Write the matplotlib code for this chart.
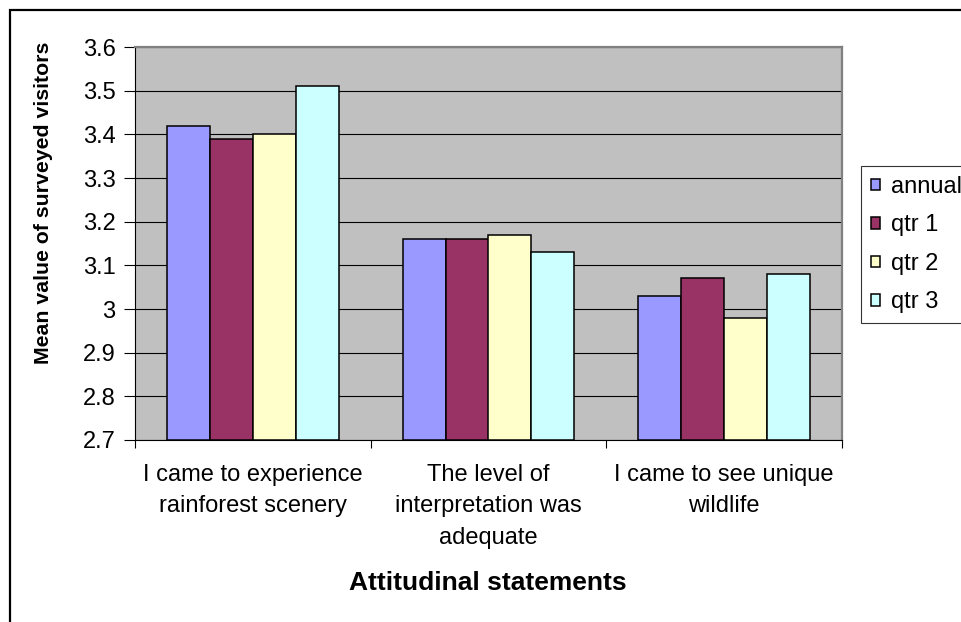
import numpy as np
import matplotlib.pyplot as plt
from matplotlib.patches import Rectangle

plt.rcParams['font.family'] = ['Liberation Sans', 'DejaVu Sans']

# data
kategorie = ['I came to experience\nrainforest scenery',
             'The level of\ninterpretation was\nadequate',
             'I came to see unique\nwildlife']
serie = ['annual', 'qtr 1', 'qtr 2', 'qtr 3']
annual = [3.42, 3.16, 3.03]
qtr1 = [3.39, 3.16, 3.07]
qtr2 = [3.40, 3.17, 2.98]
qtr3 = [3.51, 3.13, 3.08]
farby = ['#9999FF', '#993366', '#FFFFCC', '#CCFFFF']
y_ticks = [2.7, 2.8, 2.9, 3.0, 3.1, 3.2, 3.3, 3.4, 3.5, 3.6]
y_labels = ['2.7', '2.8', '2.9', '3', '3.1', '3.2', '3.3', '3.4', '3.5', '3.6']

W, H = 961, 622
fig = plt.figure(figsize=(W / 100, H / 100), dpi=100)
ax = fig.add_axes([135 / W, 1 - 440 / H, (842 - 135) / W, (440 - 47) / H])
ax.set_facecolor('#C0C0C0')

x = np.arange(len(kategorie))
sirka = 1 / 5.5  # gap width 150 %
for k, (hodnoty, meno) in enumerate(zip([annual, qtr1, qtr2, qtr3], serie)):
  ax.bar(x + (k - 1.5) * sirka, np.array(hodnoty) - 2.7, bottom=2.7, width=sirka,
         color=farby[k], edgecolor='black', linewidth=1.1, label=meno, zorder=3)

ax.set_ylim(2.7, 3.6)
ax.set_xlim(-0.5, 2.5)
ax.set_yticks(y_ticks)
ax.set_yticklabels(y_labels)
ax.grid(axis='y', color='black', linewidth=0.8, zorder=1)
ax.tick_params(axis='y', labelsize=17, length=8, width=0.8, pad=6, colors='black')

ax.set_xticks([-0.5, 0.5, 1.5, 2.5])
ax.set_xticklabels(['', '', '', ''])
ax.tick_params(axis='x', which='major', length=6, width=0.8)
ax.set_xticks(x, minor=True)
ax.set_xticklabels(kategorie, minor=True)
ax.tick_params(axis='x', which='minor', length=0, labelsize=17, pad=17)
for t in ax.get_xticklabels(minor=True):
  t.set_linespacing(1.58)

for s in ['left', 'bottom']:
  ax.spines[s].set_color('black')
  ax.spines[s].set_linewidth(0.8)
for s in ['top', 'right']:
  ax.spines[s].set_color('#808080')
  ax.spines[s].set_linewidth(1.6)

fig.text(44 / W, 1 - 203 / H, 'Mean value of surveyed visitors', rotation=90,
         ha='center', va='center', fontsize=15.3, fontweight='bold')
fig.text(488 / W, 1 - 583 / H, 'Attitudinal statements', ha='center', va='center',
         fontsize=19, fontweight='bold')

leg = fig.legend(loc='upper left', bbox_to_anchor=(861 / W, 1 - 166 / H), borderaxespad=0,
                 fontsize=17, frameon=True, fancybox=False, shadow=False,
                 handlelength=0.4, handleheight=0.4, handletextpad=0.45,
                 labelspacing=0.70, borderpad=0.42)
leg.get_frame().set_edgecolor('black')
leg.get_frame().set_linewidth(0.8)

# ramik okolo celeho grafu
fig.patches.append(Rectangle((10 / W, -0.1), 1.5, 1 - 10 / H + 0.1, transform=fig.transFigure,
                             fill=False, edgecolor='black', linewidth=1.6))

fig.savefig('out.png', dpi=100)
